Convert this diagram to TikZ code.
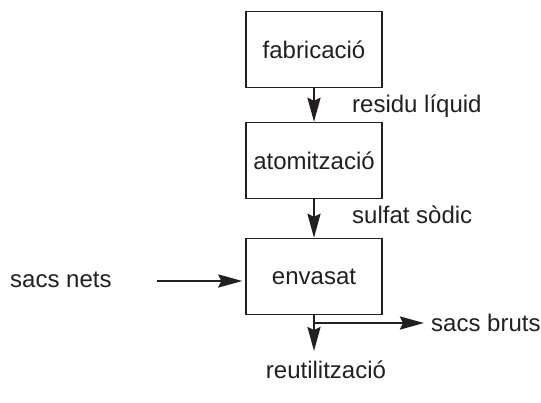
\documentclass[tikz,border=0pt]{standalone}
\usepackage{fontspec}
\setmainfont{Liberation Sans}
\usetikzlibrary{arrows.meta}
\definecolor{ink}{HTML}{231F20}
\begin{document}
\begin{tikzpicture}[x=1pt,y=-1pt,
  every node/.style={font=\fontsize{24}{27}\selectfont, text=ink},
  procbox/.style={draw=ink, line width=1.4pt, minimum width=136pt, minimum height=76pt, inner sep=0pt},
  flow/.style={draw=ink, line width=2.4pt, -{Stealth[length=24pt,width=13pt,inset=3pt]}},
  lbl/.style={anchor=west, inner sep=0pt}]
  \useasboundingbox (0,0) rectangle (541,402);

  % process steps
  \node[procbox] (fab) at (314,49.5) {fabricació};
  \node[procbox] (atom) at (314,160.5) {atomització};
  \node[procbox] (env) at (314,276.5) {envasat};

  % labels
  \node[lbl] (resid) at (352,106) {residu líquid};
  \node[lbl] (sulf) at (352,215) {sulfat sòdic};
  \node[lbl] (nets) at (10,280) {sacs nets};
  \node[lbl] (bruts) at (431,323) {sacs bruts};
  \node[inner sep=0pt] (reu) at (326,370) {reutilització};

  % free ends
  \coordinate (netsstart) at (157,281);
  \coordinate (reuend) at (314,351);
  \coordinate (brutsend) at (424,323);

  % flows
  \draw[flow] (fab) -- (atom);
  \draw[flow] (atom) -- (env);
  \draw[flow, shorten >=3pt] (netsstart) -- (netsstart -| env.west);
  \draw[flow] (env.south) -- (reuend);
  \draw[flow] (env.south |- brutsend) -- (brutsend);
\end{tikzpicture}
\end{document}
